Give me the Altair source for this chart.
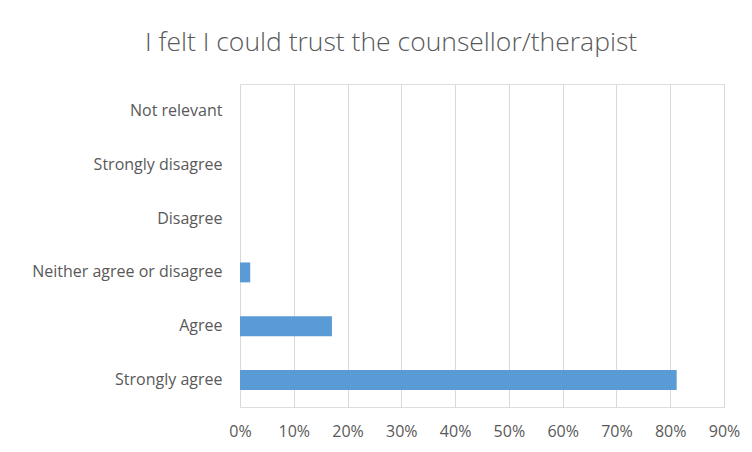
import altair as alt
import pandas as pd

categories = ["Not relevant", "Strongly disagree", "Disagree",
              "Neither agree or disagree", "Agree", "Strongly agree"]
values = [0.0, 0.0, 0.0, 0.019, 0.171, 0.812]
tick_values = [0, 0.1, 0.2, 0.3, 0.4, 0.5, 0.6, 0.7, 0.8, 0.9]

df = pd.DataFrame({"category": categories, "value": values})

font = "Open Sans"
text_color = "#595959"

chart = alt.Chart(df).mark_bar(color="#5b9bd5").encode(
    x=alt.X("value:Q",
            scale=alt.Scale(domain=[0, 0.9], nice=False),
            axis=alt.Axis(values=tick_values, format=".0%", title=None,
                          grid=True, gridColor="#d9d9d9", gridWidth=1,
                          domain=False, ticks=False, labelPadding=16,
                          labelFlush=False, labelOverlap=False,
                          labelFontSize=16, labelColor=text_color,
                          labelFont=font)),
    y=alt.Y("category:N", sort=categories,
            scale=alt.Scale(paddingInner=0.63, paddingOuter=0.315),
            axis=alt.Axis(title=None, domain=False, ticks=False,
                          labelPadding=18, labelFontSize=16,
                          labelColor=text_color, labelFont=font,
                          labelLimit=300)),
).properties(
    width=484,
    height=323,
    autosize=alt.AutoSizeParams(type="none"),
    padding={"left": 232, "top": 76, "right": 20, "bottom": 37},
    title=alt.Title("I felt I could trust the counsellor/therapist",
                    fontSize=26.5, font=font, fontWeight=300,
                    color=text_color, anchor="middle", offset=28,
                    dx=-91),
).configure_view(stroke=None).configure(background="white")

chart.save("out.html", embed_options={"renderer": "svg", "actions": False})
